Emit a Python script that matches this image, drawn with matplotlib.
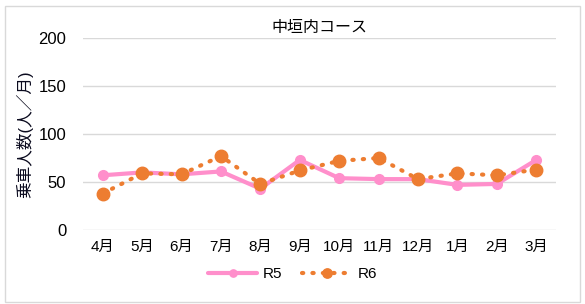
import matplotlib
matplotlib.use("Agg")
import matplotlib.pyplot as plt
from matplotlib.patches import Rectangle

months = ["4月", "5月", "6月", "7月", "8月", "9月", "10月", "11月", "12月", "1月", "2月", "3月"]
r5 = [57, 60, 58, 61, 43, 73, 54, 53, 53, 47, 48, 73]
r6 = [38, 59, 58, 77, 48, 62, 72, 75, 53, 59, 57, 63]
yticks = [0, 50, 100, 150, 200]

plt.rcParams['font.family'] = ['Liberation Sans', 'Noto Sans CJK JP', 'DejaVu Sans']

fig = plt.figure(figsize=(5.85, 3.04), dpi=100)
ax = fig.add_axes([0.1419, 0.2434, 0.8085, 0.6316])

fig.patches.append(Rectangle((5/585, 2/304), 575/585, 296/304, transform=fig.transFigure,
                             fill=False, edgecolor="#d9d9d9", linewidth=1))

x = list(range(len(months)))
ax.plot(x, r5, color="#FF8FCB", linewidth=3, marker="o", markersize=7,
        solid_capstyle="round", label="R5", zorder=3)
ax.plot(x, r6, color="#ED7D31", linewidth=3, linestyle=(0, (0.3, 2.2)), dash_capstyle="round",
        marker="o", markersize=9, label="R6", zorder=4)

ax.set_xlim(-0.5, len(months) - 0.5)
ax.set_ylim(0, 200)
ax.set_yticks(yticks)
ax.set_xticks(x)
ax.set_xticklabels(months, fontsize=11)
ax.tick_params(axis="y", labelsize=12, length=0, pad=12)
ax.tick_params(axis="x", length=0, pad=7)
ax.grid(axis="y", color="#d9d9d9", linewidth=1)
ax.set_axisbelow(True)
for s in ax.spines.values():
    s.set_visible(False)

ax.set_title("中垣内コース", fontsize=11.5, pad=4)
ax.set_ylabel("乗車人数(人／月)", fontsize=12, labelpad=4, color="#0a0a1e")

leg = fig.legend(loc="center", bbox_to_anchor=(0.5, 0.098), ncol=2, frameon=False,
                 fontsize=11, handlelength=3.2, columnspacing=1.3, handletextpad=0.4,
                 markerscale=0.75)

fig.savefig("out.png", dpi=100)
